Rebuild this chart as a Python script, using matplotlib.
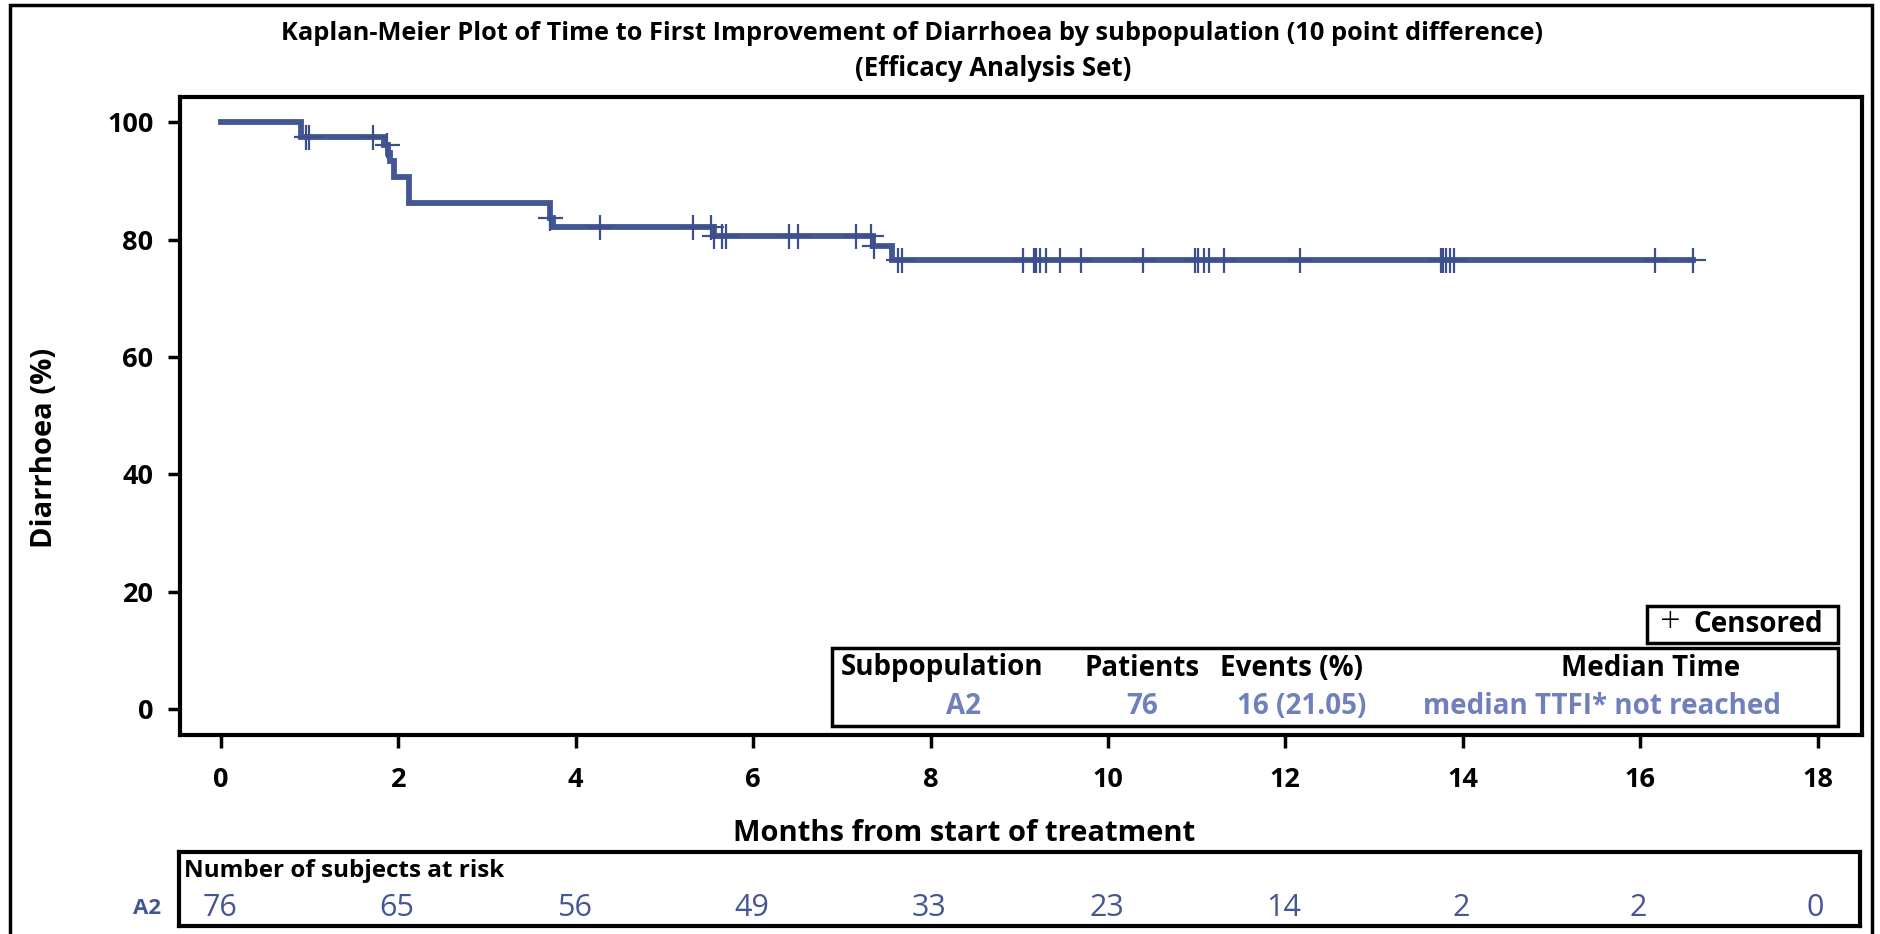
import numpy as np
import matplotlib
matplotlib.use("Agg")
import matplotlib.pyplot as plt
from matplotlib.patches import Rectangle

plt.rcParams['font.family'] = ['Open Sans', 'DejaVu Sans']

# KM step points (months, % without improvement)
step_times = [0.0, 0.90, 1.84, 1.89, 1.91, 1.95, 2.12, 3.71, 3.74, 5.56, 7.35, 7.57, 16.59]
step_surv = [100.0, 97.4, 96.1, 94.7, 93.4, 90.6, 86.3, 83.7, 82.2, 80.6, 78.9, 76.5, 76.5]

censor_times = [0.96, 0.99, 1.71, 1.87, 3.715, 4.27, 5.32, 5.52, 5.565, 5.65, 5.69,
                6.41, 6.51, 7.16, 7.33, 7.36, 7.63, 7.68, 9.04, 9.17, 9.19, 9.23,
                9.30, 9.46, 9.70, 10.39, 10.98, 11.01, 11.08, 11.14, 11.31, 12.16,
                13.76, 13.78, 13.81, 13.86, 13.90, 16.17, 16.59]

risk_times = [0, 2, 4, 6, 8, 10, 12, 14, 16, 18]
at_risk = [76, 65, 56, 49, 33, 23, 14, 2, 2, 0]

group = "A2"
n_patients = 76
events_text = "16 (21.05)"
median_text = "median TTFI* not reached"

line_col = "#445694"
light_col = "#6f80bd"

fig = plt.figure(figsize=(18.81, 9.34), dpi=100)
W, H = 1881, 934

def fx(px):
    return px / W

def fy(py):
    return 1 - py / H

# outer frame
fig.patches.append(Rectangle((fx(10), fy(940)), fx(1872) - fx(10), fy(5) - fy(940),
                             transform=fig.transFigure, fill=False, lw=2.5, ec="black"))

ax = fig.add_axes([fx(180), fy(735), fx(1862) - fx(180), fy(97) - fy(735)])
ax.set_xlim(-0.46, 18.5)
ax.set_ylim(-4.4, 104.3)

ax.step(step_times, step_surv, where="post", color=line_col, lw=4.2, solid_joinstyle="miter")
idx = np.searchsorted(step_times, censor_times, side="right") - 1
censor_y = np.array(step_surv)[idx]
ax.plot(censor_times, censor_y, ls="none", marker="+", ms=18, mew=1.6, color="#3d4f8a")

ax.set_xticks(risk_times)
ax.set_yticks([0, 20, 40, 60, 80, 100])
ax.tick_params(axis="both", length=9, width=2.5, labelsize=19.5)
ax.tick_params(axis="x", pad=14)
ax.tick_params(axis="y", pad=10)
for lab in ax.get_xticklabels() + ax.get_yticklabels():
    lab.set_fontweight("bold")
for sp in ax.spines.values():
    sp.set_linewidth(3)
ax.set_ylabel("Diarrhoea (%)", fontsize=21, fontweight="bold")
ax.set_xlabel("Months from start of treatment", fontsize=21, fontweight="bold")
ax.yaxis.set_label_coords(-0.072, 0.45)
ax.xaxis.set_label_coords(0.466, -0.131)

fig.text(fx(912), fy(33), "Kaplan-Meier Plot of Time to First Improvement of Diarrhoea by subpopulation (10 point difference)",
         ha="center", va="center", fontsize=18.3, fontweight="bold")
fig.text(fx(993), fy(68), "(Efficacy Analysis Set)", ha="center", va="center", fontsize=18.5, fontweight="bold")

# censored legend box
fig.patches.append(Rectangle((fx(1647), fy(643)), fx(1838) - fx(1647), fy(606) - fy(643),
                             transform=fig.transFigure, fill=False, lw=2.5, ec="black"))
fig.text(fx(1670), fy(624), "+", ha="center", va="center", fontsize=26, fontweight="light", color="black")
fig.text(fx(1693), fy(625), "Censored", ha="left", va="center", fontsize=20, fontweight="bold")

# stats table box
fig.patches.append(Rectangle((fx(832), fy(726)), fx(1838) - fx(832), fy(648) - fy(726),
                             transform=fig.transFigure, fill=False, lw=2.5, ec="black"))
headers = ["Subpopulation", "Patients", "Events (%)", "Median Time"]
values = [group, str(n_patients), events_text, median_text]
col_x = [942, 1142, 1292, 1651]
val_x = [964, 1142, 1302, 1602]
for h, v, cx, vx in zip(headers, values, col_x, val_x):
    fig.text(fx(cx), fy(668), h, ha="center", va="center", fontsize=20, fontweight="bold")
    fig.text(fx(vx), fy(706), v, ha="center", va="center", fontsize=20, fontweight="bold", color=light_col)

# number at risk table
rax = fig.add_axes([fx(179), fy(926), fx(1860) - fx(179), fy(852) - fy(926)])
rax.set_xlim(ax.get_xlim())
rax.set_ylim(0, 1)
rax.set_xticks([])
rax.set_yticks([])
for sp in rax.spines.values():
    sp.set_linewidth(3)
rax.text(0.003, 0.74, "Number of subjects at risk", transform=rax.transAxes, ha="left", va="center",
         fontsize=17.5, fontweight="bold")
for t, n in zip(risk_times, at_risk):
    rax.text(t, 0.24, str(n), ha="center", va="center", fontsize=22, color=line_col)
fig.text(fx(147), fy(909), group, ha="center", va="center", fontsize=16, fontweight="bold", color=line_col)

fig.savefig("out.png", dpi=100)
